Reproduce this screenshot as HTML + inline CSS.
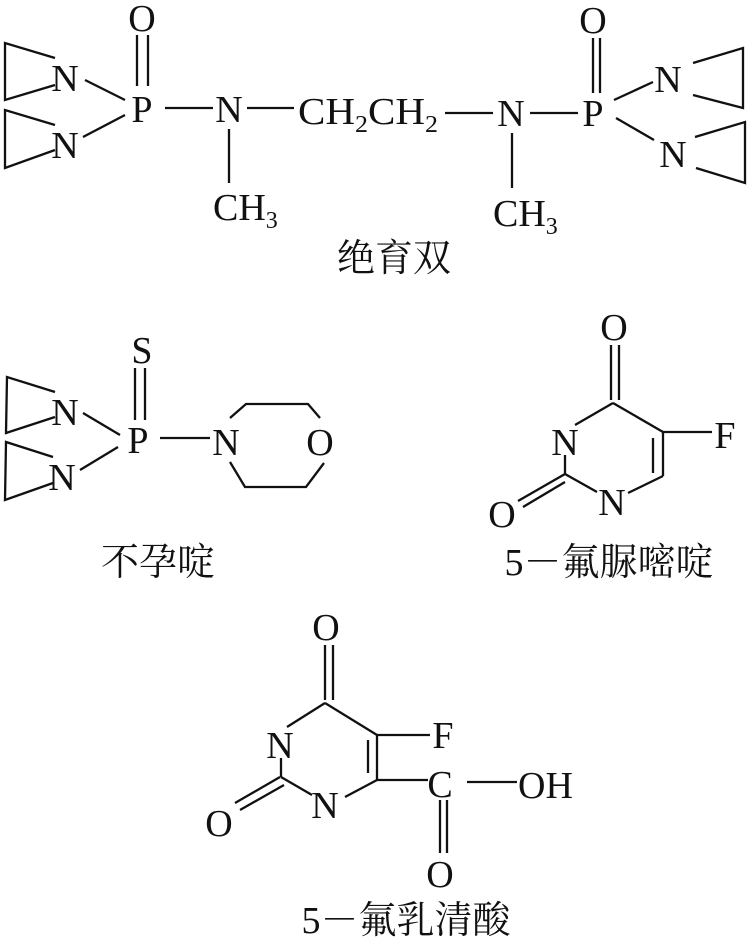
<!DOCTYPE html>
<html><head><meta charset="utf-8"><style>
html,body{margin:0;padding:0;background:#fff;}
svg{display:block;}
text{font-family:"Liberation Serif","Noto Serif CJK SC",serif;font-size:38px;fill:#111;}
.cn{font-family:"Liberation Serif","Noto Serif CJK SC","Noto Sans CJK SC",serif;font-size:38px;}
line,polyline{stroke:#111;stroke-width:2.3;fill:none;}
</style></head><body>
<svg width="753" height="938" viewBox="0 0 753 938" xmlns="http://www.w3.org/2000/svg">
<!-- 绝育双 -->
<text x="142" y="31" text-anchor="middle">O</text>
<line x1="137" y1="35" x2="137" y2="86"/><line x1="148" y1="35" x2="148" y2="86"/>
<text x="142" y="122" text-anchor="middle">P</text>
<text x="65" y="91" text-anchor="middle">N</text>
<text x="65" y="158" text-anchor="middle">N</text>
<polyline points="55,58 5,43 5,100 55,85"/>
<polyline points="55,125 5,110 5,168 55,150"/>
<line x1="85" y1="80" x2="125" y2="100"/>
<line x1="83" y1="137" x2="125" y2="115"/>
<line x1="165" y1="108" x2="213" y2="108"/>
<text x="229" y="122" text-anchor="middle">N</text>
<line x1="247" y1="108" x2="294" y2="108"/>
<text x="298" y="124" textLength="140" lengthAdjust="spacingAndGlyphs">CH<tspan font-size="24" dy="8">2</tspan><tspan dy="-8">CH</tspan><tspan font-size="24" dy="8">2</tspan></text>
<line x1="229" y1="129" x2="229" y2="183"/>
<text x="213" y="220">CH<tspan font-size="24" dy="8">3</tspan></text>
<line x1="445" y1="113" x2="493" y2="113"/>
<text x="511" y="126" text-anchor="middle">N</text>
<line x1="530" y1="113" x2="578" y2="113"/>
<text x="593" y="126" text-anchor="middle">P</text>
<text x="593" y="33" text-anchor="middle">O</text>
<line x1="593" y1="38" x2="593" y2="93"/><line x1="600" y1="38" x2="600" y2="93"/>
<line x1="614" y1="100" x2="653" y2="82"/>
<line x1="616" y1="118" x2="654" y2="140"/>
<text x="668" y="92" text-anchor="middle">N</text>
<text x="673" y="167" text-anchor="middle">N</text>
<polyline points="693,63 743,48 743,108 693,95"/>
<polyline points="695,137 745,122 745,183 696,168"/>
<line x1="512" y1="133" x2="512" y2="188"/>
<text x="493" y="226">CH<tspan font-size="24" dy="8">3</tspan></text>
<text class="cn" x="394" y="271" text-anchor="middle">绝育双</text>

<!-- 不孕啶 -->
<text x="142" y="363" text-anchor="middle">S</text>
<line x1="135" y1="368" x2="135" y2="420"/><line x1="145" y1="368" x2="145" y2="420"/>
<text x="138" y="453" text-anchor="middle">P</text>
<text x="65" y="425" text-anchor="middle">N</text>
<text x="62" y="490" text-anchor="middle">N</text>
<polyline points="55,392 7,377 6,433 55,417"/>
<polyline points="53,457 6,442 5,500 53,483"/>
<line x1="83" y1="413" x2="120" y2="435"/>
<line x1="80" y1="470" x2="118" y2="447"/>
<line x1="160" y1="438" x2="210" y2="438"/>
<text x="226" y="455" text-anchor="middle">N</text>
<polyline points="230,418 246,404 308,404 320,418"/>
<text x="320" y="455" text-anchor="middle">O</text>
<polyline points="230,462 245,487 306,487 324,463"/>
<text class="cn" x="158" y="575" text-anchor="middle">不孕啶</text>

<!-- 5-氟脲嘧啶 -->
<text x="614" y="340" text-anchor="middle">O</text>
<line x1="611" y1="345" x2="611" y2="400"/><line x1="619" y1="345" x2="619" y2="400"/>
<line x1="613" y1="403" x2="575" y2="425"/>
<text x="565" y="455" text-anchor="middle">N</text>
<line x1="565" y1="455" x2="565" y2="474"/>
<line x1="565" y1="474" x2="597" y2="492"/>
<text x="612" y="515" text-anchor="middle">N</text>
<line x1="628" y1="493" x2="663" y2="476"/>
<line x1="663" y1="476" x2="663" y2="432"/>
<line x1="653" y1="438" x2="653" y2="473"/>
<line x1="663" y1="432" x2="613" y2="403"/>
<line x1="663" y1="432" x2="712" y2="432"/>
<text x="725" y="448" text-anchor="middle">F</text>
<line x1="565" y1="474" x2="518" y2="501"/><line x1="565" y1="482" x2="523" y2="507"/>
<text x="502" y="527" text-anchor="middle">O</text>
<text class="cn" x="609" y="575" text-anchor="middle">5－氟脲嘧啶</text>

<!-- 5-氟乳清酸 -->
<text x="326" y="640" text-anchor="middle">O</text>
<line x1="325" y1="645" x2="325" y2="700"/><line x1="333" y1="645" x2="333" y2="700"/>
<line x1="325" y1="703" x2="287" y2="727"/>
<text x="280" y="758" text-anchor="middle">N</text>
<line x1="281" y1="758" x2="281" y2="777"/>
<line x1="281" y1="777" x2="312" y2="795"/>
<text x="325" y="818" text-anchor="middle">N</text>
<line x1="345" y1="797" x2="377" y2="780"/>
<line x1="377" y1="780" x2="377" y2="735"/>
<line x1="368" y1="740" x2="368" y2="773"/>
<line x1="377" y1="735" x2="325" y2="703"/>
<line x1="377" y1="735" x2="430" y2="735"/>
<text x="443" y="748" text-anchor="middle">F</text>
<line x1="377" y1="780" x2="428" y2="780"/>
<text x="440" y="797" text-anchor="middle">C</text>
<line x1="467" y1="782" x2="517" y2="782"/>
<text x="518" y="798">OH</text>
<line x1="440" y1="800" x2="440" y2="853"/><line x1="447" y1="800" x2="447" y2="853"/>
<text x="440" y="887" text-anchor="middle">O</text>
<line x1="280" y1="777" x2="235" y2="803"/><line x1="284" y1="785" x2="240" y2="810"/>
<text x="219" y="836" text-anchor="middle">O</text>
<text class="cn" x="406" y="933" text-anchor="middle">5－氟乳清酸</text>
</svg>
</body></html>
